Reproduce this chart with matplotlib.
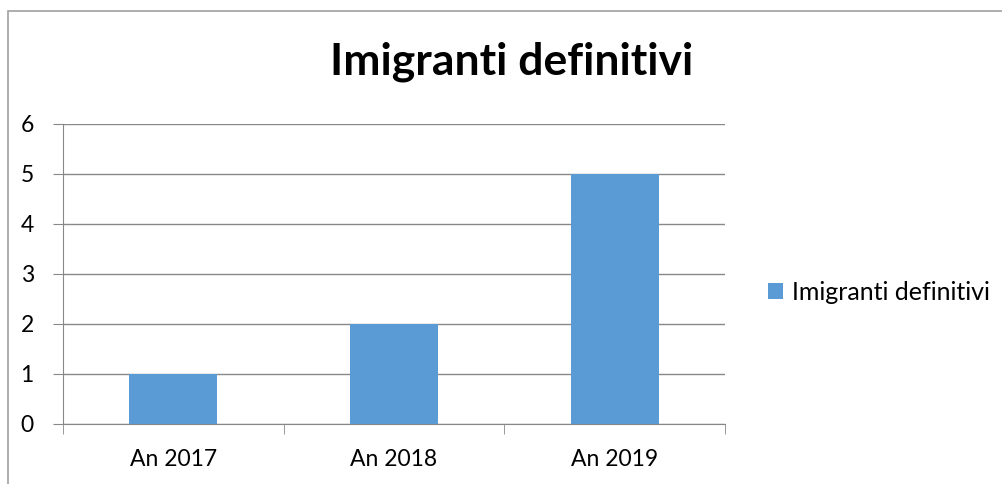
import matplotlib
matplotlib.use("Agg")
import matplotlib.pyplot as plt
from matplotlib.patches import Rectangle

categories = ["An 2017", "An 2018", "An 2019"]
values = [1, 2, 5]
series_name = "Imigranti definitivi"
title = "Imigranti definitivi"
yticks = [0, 1, 2, 3, 4, 5, 6]

W, H = 1003, 484
fig = plt.figure(figsize=(W/100, H/100), dpi=100)
plt.rcParams['font.family'] = ['Lato', 'DejaVu Sans']

# outer border
fig.patches.append(Rectangle((8.5/W, -0.1), 1.2, 1.1 - 11/H, transform=fig.transFigure,
                             fill=False, edgecolor='#a0a0a0', linewidth=1.2))

ax = fig.add_axes([63/W, 1 - 424/H, (725-63)/W, (424-124)/H])
x = list(range(len(categories)))
ax.bar(x, values, width=0.4, color='#5B9BD5', zorder=3, label=series_name)
ax.set_xlim(-0.5, 2.5)
ax.set_ylim(0, 6)
ax.set_yticks(yticks)
ax.set_yticklabels([str(t) for t in yticks], fontsize=16.5)
ax.set_xticks(x)
ax.set_xticklabels(categories, fontsize=16.5)
ax.set_xticks([-0.5, 0.5, 1.5, 2.5], minor=True)
ax.tick_params(axis='x', which='major', length=0, pad=18)
ax.tick_params(axis='x', which='minor', length=7, color='#888888', direction='out')
ax.tick_params(axis='y', length=7, color='#888888', pad=14)
ax.grid(axis='y', color='#888888', linewidth=1, zorder=0)
for s in ['top', 'right']:
    ax.spines[s].set_visible(False)
for s in ['left', 'bottom']:
    ax.spines[s].set_color('#888888')

fig.text(512/W, 1 - 62/H, title, fontsize=32, fontweight='bold', ha='center', va='center')

leg = fig.legend(loc='center left', bbox_to_anchor=(745/W, 1 - 292/H), frameon=False,
                 fontsize=18, handlelength=0.6, handleheight=0.6, handletextpad=0.4)

fig.savefig("out.png", dpi=100)
